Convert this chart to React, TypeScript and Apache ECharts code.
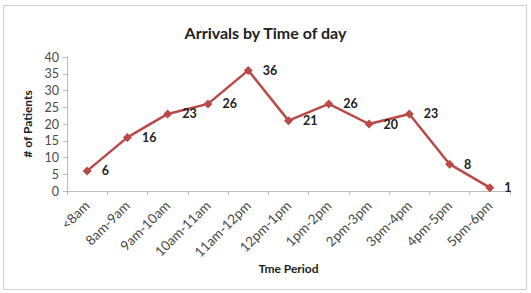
import React, { useEffect, useRef } from "react";
import * as echarts from "echarts";

const categories = ["<8am", "8am-9am", "9am-10am", "10am-11am", "11am-12pm", "12pm-1pm", "1pm-2pm", "2pm-3pm", "3pm-4pm", "4pm-5pm", "5pm-6pm"];
const patients = [6, 16, 23, 26, 36, 21, 26, 20, 23, 8, 1];

export default function App() {
  const ref = useRef<HTMLDivElement>(null);
  useEffect(() => {
    const chart = echarts.init(ref.current!, null, { renderer: "svg" });
    const font = "Lato, 'Open Sans', sans-serif";
    chart.setOption({
      animation: false,
      backgroundColor: "#fff",
      textStyle: { fontFamily: font },
      graphic: [
        {
          type: "rect",
          shape: { x: 3.5, y: 5.5, width: 523, height: 284 },
          style: { fill: "none", stroke: "#d0d0d0", lineWidth: 1 },
          silent: true,
        },
      ],
      title: {
        text: "Arrivals by Time of day",
        left: "center",
        top: 19,
        textStyle: { fontFamily: font, fontSize: 16, fontWeight: "bold", color: "#222" },
      },
      grid: { left: 67, right: 21, top: 57, bottom: 102 },
      xAxis: {
        type: "category",
        data: categories,
        boundaryGap: true,
        name: "Tme Period",
        nameLocation: "middle",
        nameGap: 67,
        nameTextStyle: { fontFamily: font, fontSize: 12, fontWeight: "bold", color: "#222" },
        axisLine: { lineStyle: { color: "#bbb" } },
        axisTick: { show: true, alignWithLabel: false, length: 4, lineStyle: { color: "#bbb" } },
        axisLabel: { rotate: 45, fontSize: 13.5, color: "#4a4a4a", margin: 12, interval: 0 },
        splitLine: { show: false },
      },
      yAxis: {
        type: "value",
        min: 0,
        max: 40,
        interval: 5,
        name: "# of Patients",
        nameLocation: "middle",
        nameGap: 30,
        nameTextStyle: { fontFamily: font, fontSize: 12, fontWeight: "bold", color: "#222" },
        axisLine: { show: true, lineStyle: { color: "#bbb" } },
        axisTick: { show: true, length: 4, lineStyle: { color: "#bbb" } },
        axisLabel: { fontSize: 12.5, color: "#4a4a4a", margin: 8 },
        splitLine: { show: false },
      },
      series: [
        {
          type: "line",
          data: patients,
          symbol: "diamond",
          symbolSize: 9,
          lineStyle: { color: "#b94a47", width: 2.5 },
          itemStyle: { color: "#b94a47" },
          label: {
            show: true,
            position: "right",
            distance: 10,
            fontFamily: font,
            fontSize: 12.5,
            fontWeight: "bold",
            color: "#222",
          },
        },
      ],
    });
    return () => chart.dispose();
  }, []);
  return <div ref={ref} style={{ width: 531, height: 293, position: "absolute", left: 0, top: 0 }} />;
}
